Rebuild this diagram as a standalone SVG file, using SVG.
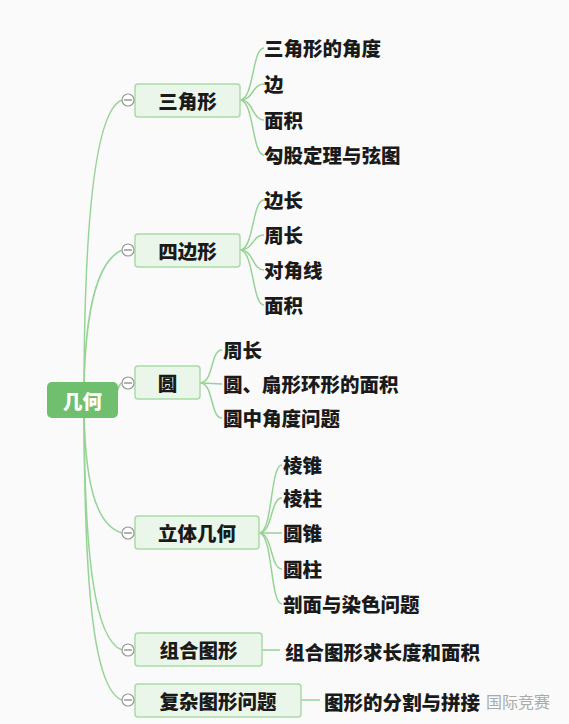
<svg xmlns="http://www.w3.org/2000/svg" width="569" height="724" viewBox="0 0 569 724">
<style>
.ln{fill:none;stroke:#96d396;stroke-width:1.5}
.br{fill:#ebf6ea;stroke:#a9dba6;stroke-width:1.5}
.bt{font-family:"Noto Sans CJK SC","Noto Sans",sans-serif;font-size:19.5px;font-weight:900;fill:#1a1a1a;text-anchor:middle;dominant-baseline:central}
.lf{font-family:"Noto Sans CJK SC","Noto Sans",sans-serif;font-size:19.5px;font-weight:900;fill:#1a1a1a;dominant-baseline:central}
.cc{fill:#fff;stroke:#999;stroke-width:1.2}
.cm{stroke:#888;stroke-width:1.3}
</style>
<rect width="569" height="724" fill="#fafafa"/>
<g id="connectors">
<path class="ln" d="M84,400 C84,220 95,110 122,100"/>
<path class="ln" d="M84,400 C84,320 95,262 122,250"/>
<path class="ln" d="M117,392 C119,386 120,383 122,383"/>
<path class="ln" d="M84,400 C84,480 95,525 122,533"/>
<path class="ln" d="M84,400 C84,560 95,640 122,650"/>
<path class="ln" d="M84,400 C84,600 95,690 122,700"/>
<path class="ln" d="M240,100 C254,100 252,48 264,48"/>
<path class="ln" d="M240,100 C254,100 252,84 264,84"/>
<path class="ln" d="M240,100 C254,100 252,120 264,120"/>
<path class="ln" d="M240,100 C254,100 252,155 264,155"/>
<path class="ln" d="M240,250 C254,250 252,200 264,200"/>
<path class="ln" d="M240,250 C254,250 252,235 264,235"/>
<path class="ln" d="M240,250 C254,250 252,270 264,270"/>
<path class="ln" d="M240,250 C254,250 252,305 264,305"/>
<path class="ln" d="M200,383 C214,383 210,350 222,350"/>
<path class="ln" d="M200,383 C214,383 210,384 222,384"/>
<path class="ln" d="M200,383 C214,383 210,418 222,418"/>
<path class="ln" d="M259,533 C273,533 270,465 282,465"/>
<path class="ln" d="M259,533 C273,533 270,498 282,498"/>
<path class="ln" d="M259,533 C273,533 270,533 282,533"/>
<path class="ln" d="M259,533 C273,533 270,569 282,569"/>
<path class="ln" d="M259,533 C273,533 270,604 282,604"/>
<path class="ln" d="M262,650 L280,650"/>
<path class="ln" d="M301,700 L320,700"/>
</g>
<g id="root">
<rect x="47" y="382" width="71" height="36" rx="5" fill="#6fbf6f"/>
<text x="82.5" y="400" class="bt" style="fill:#fff">几何</text>
</g>
<g id="n-sanjiao">
<rect class="br" x="135" y="84" width="105" height="33" rx="3"/>
<text class="bt" x="187.5" y="100">三角形</text>
<circle class="cc" cx="128" cy="100" r="6"/><line class="cm" x1="124" y1="100" x2="132" y2="100"/>
</g>
<g id="n-sibian">
<rect class="br" x="135" y="234" width="105" height="33" rx="3"/>
<text class="bt" x="187.5" y="250">四边形</text>
<circle class="cc" cx="128" cy="250" r="6"/><line class="cm" x1="124" y1="250" x2="132" y2="250"/>
</g>
<g id="n-yuan">
<rect class="br" x="135" y="366" width="65" height="33" rx="3"/>
<text class="bt" x="167.5" y="382">圆</text>
<circle class="cc" cx="128" cy="383" r="6"/><line class="cm" x1="124" y1="383" x2="132" y2="383"/>
</g>
<g id="n-liti">
<rect class="br" x="135" y="516" width="124" height="33" rx="3"/>
<text class="bt" x="197" y="532">立体几何</text>
<circle class="cc" cx="128" cy="533" r="6"/><line class="cm" x1="124" y1="533" x2="132" y2="533"/>
</g>
<g id="n-zuhe">
<rect class="br" x="135" y="633" width="127" height="33" rx="3"/>
<text class="bt" x="198.5" y="649">组合图形</text>
<circle class="cc" cx="128" cy="650" r="6"/><line class="cm" x1="124" y1="650" x2="132" y2="650"/>
</g>
<g id="n-fuza">
<rect class="br" x="135" y="684" width="166" height="33" rx="3"/>
<text class="bt" x="218" y="700">复杂图形问题</text>
<circle class="cc" cx="128" cy="700" r="6"/><line class="cm" x1="124" y1="700" x2="132" y2="700"/>
</g>
<g id="leaves">
<text class="lf" x="264" y="47">三角形的角度</text>
<text class="lf" x="264" y="83">边</text>
<text class="lf" x="264" y="119">面积</text>
<text class="lf" x="264" y="154">勾股定理与弦图</text>
<text class="lf" x="264" y="199">边长</text>
<text class="lf" x="264" y="234">周长</text>
<text class="lf" x="264" y="269">对角线</text>
<text class="lf" x="264" y="304">面积</text>
<text class="lf" x="223" y="349">周长</text>
<text class="lf" x="223" y="383">圆、扇形环形的面积</text>
<text class="lf" x="223" y="417">圆中角度问题</text>
<text class="lf" x="283" y="464">棱锥</text>
<text class="lf" x="283" y="497">棱柱</text>
<text class="lf" x="283" y="532">圆锥</text>
<text class="lf" x="283" y="568">圆柱</text>
<text class="lf" x="283" y="603">剖面与染色问题</text>
<text class="lf" x="285" y="651">组合图形求长度和面积</text>
<text class="lf" x="324" y="701">图形的分割与拼接</text>
</g>
<text x="486" y="701" style="font-family:'Noto Sans CJK SC',sans-serif;font-size:16px;fill:#aaa;dominant-baseline:central">国际竞赛</text>
</svg>
